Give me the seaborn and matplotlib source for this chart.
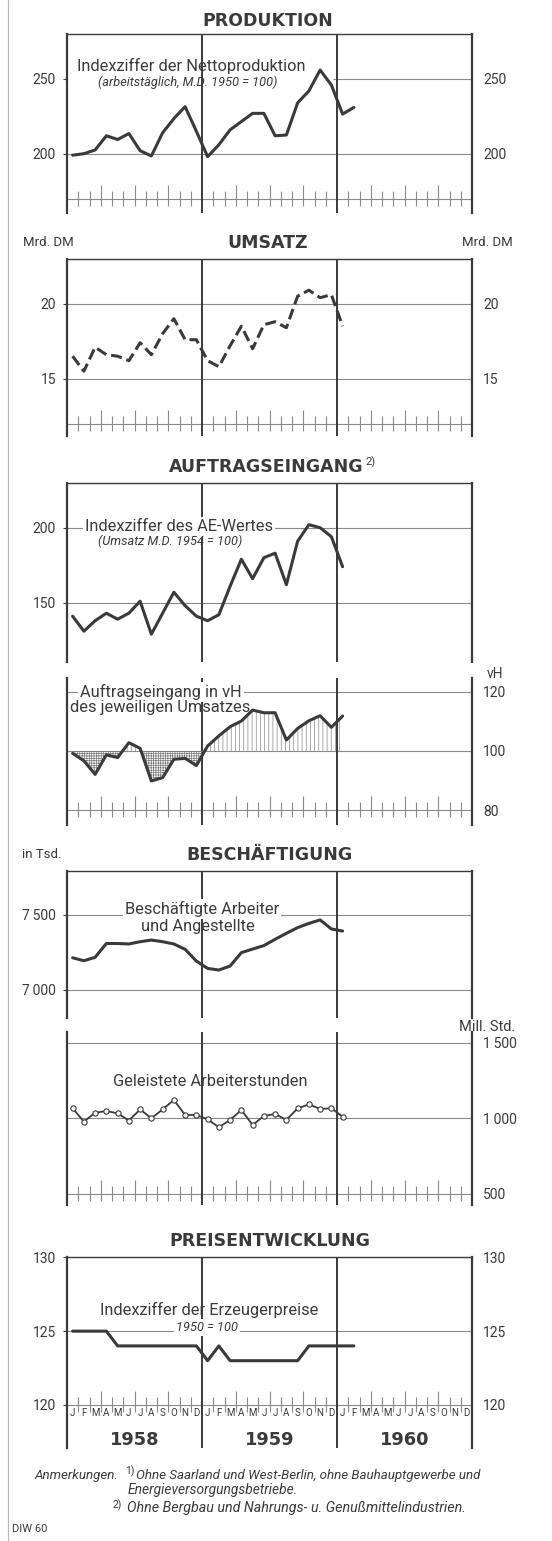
import numpy as np
import matplotlib
matplotlib.use("Agg")
import matplotlib.pyplot as plt
from matplotlib.lines import Line2D
import seaborn as sns

sns.set_theme(style="white")
plt.rcParams['font.family'] = ['Roboto', 'DejaVu Sans']
plt.rcParams['hatch.linewidth'] = 0.5

# ---------------- data ----------------
month_letters = ['J', 'F', 'M', 'A', 'M', 'J', 'J', 'A', 'S', 'O', 'N', 'D']
years = ['1958', '1959', '1960']

produktion = [199, 200, 202.5, 212, 209.5, 213.5, 202, 198.5, 214, 223.5, 231.5, 215,
              198, 206, 216, 221.5, 227, 227, 212, 212.5, 234, 242, 256, 246,
              226.5, 231]
umsatz = [16.5, 15.5, 17.1, 16.6, 16.5, 16.2, 17.4, 16.6, 18.0, 19.0, 17.6, 17.6,
          16.2, 15.8, 17.2, 18.5, 17.0, 18.6, 18.8, 18.4, 20.5, 20.9, 20.4, 20.6,
          18.5]
auftrag_index = [141, 131, 138, 143, 139, 143, 151, 129, 143, 157, 148, 141,
                 138, 142, 161, 179, 166, 180, 183, 162, 191, 202, 200, 194,
                 174]
auftrag_vh = [99.2, 96.7, 92.1, 98.7, 97.8, 102.8, 100.9, 89.9, 91.0, 97.2, 97.5, 95.1,
              101.7, 105.1, 108.2, 110.1, 113.8, 112.9, 112.9, 103.7, 107.6, 110.2, 111.9, 108.0,
              111.8]
beschaeftigte = [7215, 7195, 7218, 7310, 7310, 7307, 7322, 7333, 7322, 7307, 7271, 7193,
                 7144, 7133, 7160, 7249, 7273, 7296, 7338, 7378, 7416, 7444, 7467, 7407,
                 7393]
arbeiterstunden = [1066, 978, 1037, 1048, 1033, 985, 1059, 1000, 1059, 1121, 1022, 1022,
                   993, 941, 989, 1055, 956, 1015, 1029, 989, 1066, 1092, 1062, 1066,
                   1011]
preise = [125, 125, 125, 125, 124, 124, 124, 124, 124, 124, 124, 124,
          123, 124, 123, 123, 123, 123, 123, 123, 123, 124, 124, 124,
          124, 124]

# ---------------- layout helpers ----------------
W, H = 552, 1541
XL, XR = 67, 472
INK = '#3a3a3a'
GRID = '#8a8a8a'
TS = '\u2009'

fig = plt.figure(figsize=(W / 100, H / 100), dpi=100)
fig.patch.set_facecolor('white')


def fx(px):
    return px / W


def fy(py):
    return 1 - py / H


def make_panel(ref1, px1, ref2, px2, top_px, bot_px, top_spine=True):
    ppu = (px2 - px1) / (ref1 - ref2)
    ytop = ref1 + (px1 - top_px) / ppu
    ybot = ref1 - (bot_px - px1) / ppu
    ax = fig.add_axes([fx(XL), fy(bot_px), (XR - XL) / W, (bot_px - top_px) / H])
    ax.set_xlim(0, 36)
    ax.set_ylim(ybot, ytop)
    ax.patch.set_alpha(0)
    for s in ['left', 'right']:
        ax.spines[s].set_visible(True)
        ax.spines[s].set_color(INK)
        ax.spines[s].set_linewidth(1.6)
    ax.spines['bottom'].set_visible(False)
    ax.spines['top'].set_visible(top_spine)
    ax.spines['top'].set_color(INK)
    ax.spines['top'].set_linewidth(1.0)
    for xv in (12, 24):
        ax.axvline(xv, color=INK, lw=1.4, zorder=2)
    ax.set_xticks([])
    ax.grid(False)
    return ax, ppu


def yaxis(ax, ticks, labels, left=True, right=False):
    ax.set_yticks(ticks)
    ax.set_yticklabels(labels)
    ax.tick_params(axis='y', left=left, right=False, labelleft=left, labelright=right,
                   length=3, width=0.8, color=INK, labelcolor=INK, labelsize=10,
                   pad=5, direction='out')


def gridlines(ax, vals, xmin=0):
    ax.hlines(vals, xmin, 36, color=GRID, lw=0.8, zorder=1)


def month_ticks(ax, base, ppu):
    ax.hlines(base, 0, 36, color=GRID, lw=0.8, zorder=1)
    b = np.arange(1, 36)
    b = b[b % 12 != 0]
    up = np.where(b % 3 == 0, 14, 8) / ppu
    ax.vlines(b, base - 7 / ppu, base + up, color=GRID, lw=0.8, zorder=1)


def title(px, py, s):
    fig.text(fx(px), fy(py), s, ha='center', va='center', fontsize=12.5,
             fontweight='bold', family='DejaVu Sans', color=INK)


def label(x, y, s, size=11.8, style='normal', box=False):
    kw = dict(ha='center', va='center', fontsize=size, style=style, color=INK, zorder=5)
    if box:
        kw['bbox'] = dict(facecolor='white', edgecolor='none', pad=1.5)
    fig.text(fx(x), fy(y), s, **kw)


def unit(x, y, s, size=9.5):
    fig.text(fx(x), fy(y), s, ha='center', va='center', fontsize=size, color=INK)


def mx(vals):
    return np.arange(len(vals)) + 0.5


LW = 2.2
SUB = 9.2

# ---------------- PRODUKTION ----------------
title(268, 21, 'PRODUKTION')
ax1, p1 = make_panel(250, 79, 200, 153.7, 34, 213)
yaxis(ax1, [200, 250], ['200', '250'], left=True, right=True)
gridlines(ax1, [200])
ax1.hlines(250, 23.6, 36, color=GRID, lw=0.8, zorder=1)
month_ticks(ax1, 170, p1)
sns.lineplot(x=mx(produktion), y=produktion, ax=ax1, color=INK, lw=LW, zorder=4)
label(191, 66, 'Indexziffer der Nettoproduktion')
label(188, 82.5, '(arbeitstäglich, M.D. 1950 = 100)', size=SUB, style='italic')

# ---------------- UMSATZ ----------------
title(268, 243, 'UMSATZ')
unit(48, 243, 'Mrd. DM')
unit(487, 243, 'Mrd. DM')
ax2, p2 = make_panel(20, 303.7, 15, 378.7, 259.3, 436)
yaxis(ax2, [15, 20], ['15', '20'], left=True, right=True)
gridlines(ax2, [15, 20])
month_ticks(ax2, 12, p2)
sns.lineplot(x=mx(umsatz), y=umsatz, ax=ax2, color=INK, lw=LW,
             linestyle=(0, (3.6, 1.6)), zorder=4)

# ---------------- AUFTRAGSEINGANG ----------------
title(266, 467, 'AUFTRAGSEINGANG')
fig.text(fx(365), fy(462), '2)', ha='left', va='center', fontsize=8, color=INK)
ax3, p3 = make_panel(200, 527.7, 150, 602.7, 482.7, 662)
yaxis(ax3, [150, 200], ['150', '200'], left=True, right=False)
gridlines(ax3, [150, 200])
sns.lineplot(x=mx(auftrag_index), y=auftrag_index, ax=ax3, color=INK, lw=LW, zorder=4)
label(179, 527, 'Indexziffer des AE-Wertes', box=True)
label(170, 541, '(Umsatz M.D. 1954 = 100)', size=SUB, style='italic')

# ---------------- AE in vH ----------------
ax4, p4 = make_panel(120, 691.7, 100, 751, 678, 825, top_spine=False)
yaxis(ax4, [80, 100, 120], ['80', '100', '120'], left=False, right=True)
gridlines(ax4, [100, 120])
month_ticks(ax4, 80, p4)
xv = mx(auftrag_vh)
yv = np.array(auftrag_vh)
ax4.fill_between(xv, yv, 100, where=yv < 100, interpolate=True, facecolor='none',
                 edgecolor='#7a7a7a', hatch='+++++++', lw=0, zorder=2)
ax4.fill_between(xv, yv, 100, where=yv >= 100, interpolate=True, facecolor='none',
                 edgecolor=GRID, hatch='||||', lw=0, zorder=2)
sns.lineplot(x=xv, y=auftrag_vh, ax=ax4, color=INK, lw=LW, zorder=4)
unit(495, 674, 'vH', size=10)
label(161, 691.7, 'Auftragseingang in vH', box=True)
label(160, 707.7, 'des jeweiligen Umsatzes')

# ---------------- BESCHÄFTIGUNG ----------------
title(270, 855, 'BESCHÄFTIGUNG')
unit(42, 855, 'in Tsd.')
ax5, p5 = make_panel(7500, 915, 7000, 990, 871, 1018)
yaxis(ax5, [7000, 7500], ['7' + TS + '000', '7' + TS + '500'], left=True, right=False)
gridlines(ax5, [7000, 7500])
sns.lineplot(x=mx(beschaeftigte), y=beschaeftigte, ax=ax5, color=INK, lw=LW, zorder=4)
label(202, 909, 'Beschäftigte Arbeiter', box=True)
label(198, 926.7, 'und Angestellte')

# ---------------- Arbeiterstunden ----------------
ax6, p6 = make_panel(1500, 1042.7, 1000, 1118.3, 1032, 1205, top_spine=False)
yaxis(ax6, [500, 1000, 1500], ['500', '1' + TS + '000', '1' + TS + '500'],
      left=False, right=True)
gridlines(ax6, [1000, 1500])
month_ticks(ax6, 500, p6)
sns.lineplot(x=mx(arbeiterstunden), y=arbeiterstunden, ax=ax6, color=INK, lw=1.3,
             marker='o', markersize=3.8, markerfacecolor='white',
             markeredgecolor=INK, markeredgewidth=0.8, zorder=4)
unit(487, 1027, 'Mill. Std.', size=10.5)
label(210, 1081, 'Geleistete Arbeiterstunden')

# ---------------- PREISENTWICKLUNG ----------------
title(270, 1241, 'PREISENTWICKLUNG')
ax7, p7 = make_panel(130, 1257.3, 120, 1405, 1257.3, 1448)
yaxis(ax7, [120, 125, 130], ['120', '125', '130'], left=True, right=True)
gridlines(ax7, [125])
month_ticks(ax7, 120, p7)
sns.lineplot(x=mx(preise), y=preise, ax=ax7, color=INK, lw=LW, zorder=4)
label(209, 1310, 'Indexziffer der Erzeugerpreise')
label(207, 1327.7, '1950 = 100', size=SUB, style='italic', box=True)

# month and year labels
for k in range(36):
    ax7.text(k + 0.5, 120 - 8 / p7, month_letters[k % 12], ha='center', va='center',
             fontsize=7, color=INK)
for j, yr in enumerate(years):
    ax7.text(12 * j + 6, 120 - 35 / p7, yr, ha='center', va='center', fontsize=12.8,
             fontweight='bold', family='DejaVu Sans', color=INK)

# ---------------- footnotes ----------------
def foot(x, y, s, size):
    fig.text(fx(x), fy(y), s, fontsize=size, style='italic', color=INK,
             va='center', ha='left')


foot(35, 1475, 'Anmerkungen.', 9.6)
fig.text(fx(125), fy(1471), '1)', fontsize=7.5, color=INK, va='center', ha='left')
foot(136, 1475, 'Ohne Saarland und West-Berlin, ohne Bauhauptgewerbe und', 9.6)
foot(128, 1490, 'Energieversorgungsbetriebe.', 9.9)
fig.text(fx(113), fy(1505), '2)', fontsize=7.5, color=INK, va='center', ha='left')
foot(127, 1508, 'Ohne Bergbau und Nahrungs- u. Genußmittelindustrien.', 10.3)
fig.text(fx(12), fy(1529), 'DIW 60', fontsize=8, color=INK, va='center', ha='left')

# page edge line
fig.add_artist(Line2D([fx(8), fx(8)], [0, 1], color='#b5b5b5', lw=0.8))

fig.savefig('out.png', dpi=100, facecolor='white')
